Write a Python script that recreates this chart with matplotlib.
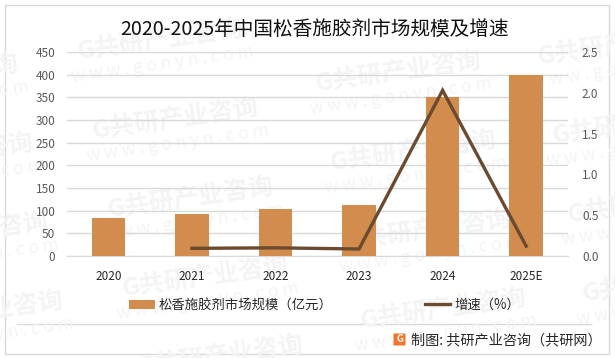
# -*- coding: utf-8 -*-
import matplotlib
matplotlib.use('Agg')
import matplotlib.pyplot as plt
from matplotlib.patches import Rectangle, FancyBboxPatch

plt.rcParams['font.family'] = ['Noto Sans CJK SC', 'DejaVu Sans']

# Datos
years = ['2020', '2021', '2022', '2023', '2024', '2025E']
market_size = [84, 93, 104, 113, 350, 400]
growth_years = ['2021', '2022', '2023', '2024', '2025E']
growth = [0.094, 0.10, 0.086, 2.03, 0.12]
left_ticks = [0, 50, 100, 150, 200, 250, 300, 350, 400, 450]
right_ticks = [0.0, 0.5, 1.0, 1.5, 2.0, 2.5]

W, H = 615, 358
fig = plt.figure(figsize=(W / 100, H / 100), dpi=100)
bg = fig.add_axes([0, 0, 1, 1], zorder=0)
bg.set_xlim(0, W)
bg.set_ylim(H, 0)
bg.axis('off')

# Marca de agua
columns = [(-65, 75), (160, 40), (398, 72), (620, 45)]
for cx, cy in columns:
    for row in range(5):
        x0 = cx + row * 15
        y0 = cy + row * 79
        bg.text(x0, y0, 'G共研产业咨询', fontsize=18, weight='bold', color='#f4f4f4',
                rotation=8, ha='center', va='center', clip_on=True)
        bg.text(x0 + 3, y0 + 24, 'w w w . g o n y n . c o m', fontsize=12.5, color='#f4f4f4',
                rotation=8, ha='center', va='center', clip_on=True)

# Marco y separador
bg.add_patch(Rectangle((4.5, 4.5), 604.5, 349, fill=False, ec='#d9d9d9', lw=1))
bg.plot([17, 591], [323.5, 323.5], color='#d9d9d9', lw=1)

# Ejes
ax = fig.add_axes([66.5 / W, 1 - 256 / H, (568 - 66.5) / W, 204 / H], zorder=2)
ax.patch.set_alpha(0)
ax.bar(years, market_size, width=0.4, color='#d18c4e', zorder=3, label='松香施胶剂市场规模（亿元）')
ax.set_xlim(-0.5, 5.5)
ax.set_ylim(0, 450)
ax.set_yticks(left_ticks)
ax.grid(axis='y', color='#d9d9d9', lw=1, zorder=0)
ax.tick_params(axis='both', length=0)
ax.tick_params(axis='y', labelsize=8.5, labelcolor='#595959', pad=8)
ax.tick_params(axis='x', labelsize=8.5, labelcolor='#262626', pad=10)
for s in ['top', 'left', 'right']:
    ax.spines[s].set_visible(False)
ax.spines['bottom'].set_color('#d9d9d9')

ax2 = ax.twinx()
ax2.set_zorder(3)
ax2.plot([years.index(y) for y in growth_years], growth, color='#6b4a2f', lw=2.4,
         solid_joinstyle='miter', label='增速（%）')
ax2.set_ylim(0, 2.5)
ax2.set_yticks(right_ticks)
ax2.set_yticklabels(['%.1f' % v for v in right_ticks])
ax2.tick_params(axis='y', length=0, labelsize=8.5, labelcolor='#595959', pad=10)
for s in ax2.spines.values():
    s.set_visible(False)

# Textos
fig.text(314.5 / W, 1 - 29 / H, '2020-2025年中国松香施胶剂市场规模及增速', fontsize=14.15,
         color='#111111', ha='center', va='center', zorder=5)

h1, l1 = ax.get_legend_handles_labels()
h2, l2 = ax2.get_legend_handles_labels()
fig.legend(h1 + h2, l1 + l2, ncol=2, frameon=False, fontsize=9.6, loc='center',
           bbox_to_anchor=(324.5 / W, 1 - 305 / H), columnspacing=6.92, handlelength=1.9,
           handletextpad=0.3, labelcolor='#262626')

# Logo y fuente
logo = fig.add_axes([0, 0, 1, 1], zorder=4)
logo.set_xlim(0, W)
logo.set_ylim(H, 0)
logo.axis('off')
logo.add_patch(FancyBboxPatch((394, 334), 11, 11, boxstyle='round,pad=0.5', fc='#f0742a', ec='none'))
logo.text(399.5, 339.5, 'G', fontsize=7, weight='bold', color='white', ha='center', va='center')
logo.text(411, 340, '制图: 共研产业咨询（共研网）', fontsize=10.2, color='#262626', ha='left', va='center')

fig.savefig('out.png', dpi=100)
